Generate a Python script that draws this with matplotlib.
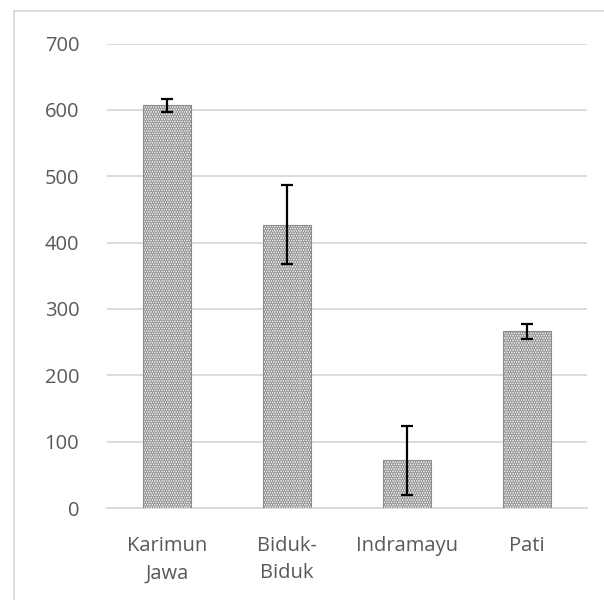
import matplotlib
matplotlib.use("Agg")
import matplotlib.pyplot as plt
from matplotlib.lines import Line2D

categories = ["Karimun\nJawa", "Biduk-\nBiduk", "Indramayu", "Pati"]
values = [607, 427, 72, 266]
errors = [10, 60, 52, 12]
yticks = [0, 100, 200, 300, 400, 500, 600, 700]

plt.rcParams['font.family'] = ['Open Sans', 'DejaVu Sans']
plt.rcParams['hatch.linewidth'] = 1.6
plt.rcParams['hatch.color'] = 'black'

fig = plt.figure(figsize=(6.04, 6.0), dpi=100)
ax = fig.add_axes([107/604, 1 - 508/600, 480/604, (508 - 43.5)/600])

x = list(range(len(categories)))
ax.bar(x, values, width=0.4, color='white', edgecolor='#8c8c8c', linewidth=0.8,
       hatch='.......', zorder=3)
ax.errorbar(x, values, yerr=errors, fmt='none', ecolor='black', elinewidth=1.6,
            capsize=4, capthick=1.6, zorder=4)

ax.set_xlim(-0.5, 3.5)
ax.set_ylim(0, 700)
ax.set_yticks(yticks)
ax.set_xticks(x)
ax.set_xticklabels(categories, color='#595959', fontsize=14.5, linespacing=1.5)
ax.tick_params(axis='y', labelcolor='#595959', labelsize=14.5, length=0, pad=20)
ax.tick_params(axis='x', length=0, pad=20)
ax.grid(axis='y', color='#d9d9d9', linewidth=1.3, zorder=0)
for s in ['top', 'right', 'left']:
    ax.spines[s].set_visible(False)
ax.spines['bottom'].set_color('#d9d9d9')
ax.spines['bottom'].set_linewidth(1.3)
ax.spines['bottom'].set_zorder(2)

fig.add_artist(Line2D([14/604, 1], [1 - 11/600, 1 - 11/600], color='#d9d9d9',
                      linewidth=1.3, transform=fig.transFigure))
fig.add_artist(Line2D([14/604, 14/604], [0, 1 - 11/600], color='#d9d9d9',
                      linewidth=1.3, transform=fig.transFigure))

fig.savefig("out.png", dpi=100)
